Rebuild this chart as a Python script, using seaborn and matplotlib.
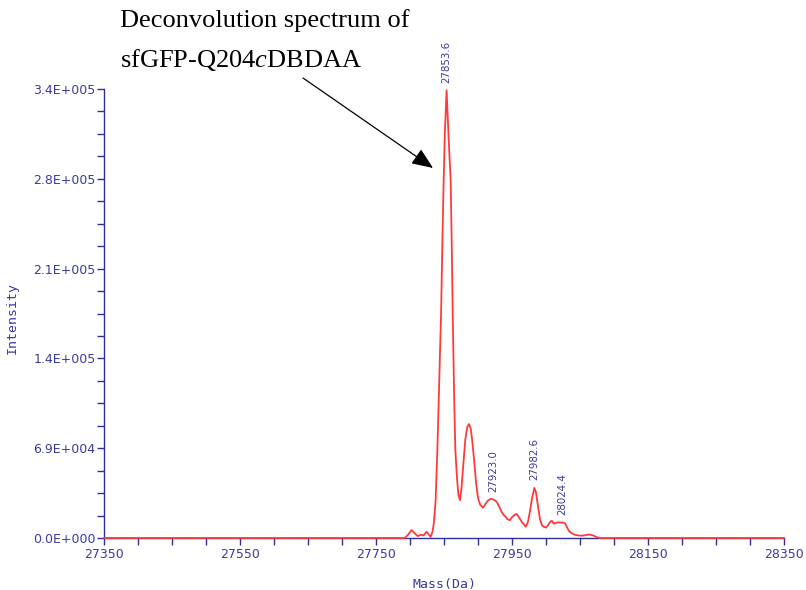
import numpy as np
import pandas as pd
import matplotlib
matplotlib.use("Agg")
import matplotlib.pyplot as plt
import seaborn as sns

# Deconvoluted mass spectrum (mass in Da, intensity in counts)
mass = [
    27350, 27792, 27797, 27802, 27806, 27811, 27816, 27820, 27824, 27827,
    27830, 27833, 27835, 27837.5, 27840, 27842, 27844, 27845.5, 27847.5, 27849.3,
    27851, 27853.6, 27855.5, 27857.5, 27859.6, 27861, 27862.6, 27863.5, 27865, 27866.5,
    27869, 27871, 27873.3, 27875.5, 27878, 27881, 27884, 27886.5, 27889, 27891,
    27894, 27897, 27900, 27903, 27907, 27910, 27914, 27918, 27922, 27925,
    27928, 27931, 27934, 27937, 27940, 27943, 27946.5, 27950, 27953, 27956,
    27958, 27961, 27964, 27967, 27970, 27973, 27976, 27979, 27982.6, 27985,
    27988, 27991, 27994, 27997, 28000, 28003, 28006, 28008.5, 28011, 28014,
    28018, 28022, 28025, 28028, 28031, 28034, 28037, 28042, 28048, 28053,
    28058, 28063, 28067, 28071, 28075, 28079, 28350,
]
intensity = [
    0, 0, 2500, 6100, 4000, 1500, 2500, 2000, 4800, 3000,
    800, 5000, 12000, 29000, 67000, 105000, 144000, 172000, 230000, 274000,
    310000, 343000, 320000, 296000, 274000, 230000, 172000, 144000, 100000, 67000,
    45000, 33000, 29000, 38000, 55000, 75000, 85000, 87300, 84000, 76000,
    60000, 42000, 30000, 25500, 23200, 25500, 28500, 29900, 29600, 28800,
    27000, 24000, 20500, 18000, 16500, 14500, 13600, 16000, 17500, 18400,
    17500, 15000, 12500, 10500, 8600, 12000, 20000, 30000, 38400, 35000,
    24000, 14000, 9500, 8500, 8000, 10000, 12500, 13200, 11000, 11500,
    12000, 11800, 11900, 11000, 7800, 5000, 3800, 2500, 1900, 1800,
    2200, 2700, 2300, 1500, 500, 0, 0,
]

# Annotated peak masses
peak_labels = [27853.6, 27923.0, 27982.6, 28024.4]

# Axis ticks
x_ticks = [27350, 27550, 27750, 27950, 28150, 28350]
y_max = 344000
y_tick_labels = ["0.0E+000", "6.9E+004", "1.4E+005", "2.1E+005", "2.8E+005", "3.4E+005"]

sns.set_style("white")
plt.rcParams["font.family"] = ["DejaVu Sans"]

axis_blue = "#2e2ea0"
label_blue = "#3a3a9e"
trace_red = "#ff3a3a"

fig = plt.figure(figsize=(8.06, 5.90), dpi=100)
ax = fig.add_axes([104 / 806, 1 - 538 / 590, 680.3 / 806, 449 / 590])

df = pd.DataFrame({"Mass": mass, "Intensity": intensity})
sns.lineplot(data=df, x="Mass", y="Intensity", ax=ax, color=trace_red,
             linewidth=1.3, estimator=None, sort=False, clip_on=False, zorder=5)

ax.set_xlim(27350, 28350)
ax.set_ylim(0, y_max)

# Ticks: majors labelled, minors every 50 Da / quarter-step on intensity
ax.set_xticks(x_ticks)
ax.set_xticks(np.arange(27350, 28351, 50), minor=True)
y_ticks = np.linspace(0, y_max, len(y_tick_labels))
ax.set_yticks(y_ticks)
ax.set_yticklabels(y_tick_labels)
ax.set_yticks(np.linspace(0, y_max, 4 * (len(y_tick_labels) - 1) + 1), minor=True)

ax.tick_params(axis="both", which="both", direction="out", length=5, width=1.0,
               color=axis_blue, labelcolor=label_blue, labelsize=9,
               bottom=True, left=True, top=False, right=False)
ax.tick_params(axis="y", which="both", pad=1)
ax.tick_params(axis="x", which="both", pad=2)

for side in ("top", "right"):
    ax.spines[side].set_visible(False)
for side in ("left", "bottom"):
    ax.spines[side].set_color(axis_blue)
    ax.spines[side].set_linewidth(1.0)

ax.set_xlabel("Mass(Da)", family="DejaVu Sans Mono", fontsize=9.5, color=label_blue)
ax.set_ylabel("Intensity", family="DejaVu Sans Mono", fontsize=9.5, color=label_blue)
ax.xaxis.set_label_coords(0.5, -0.089)
ax.yaxis.set_label_coords(-0.125, 0.49)

# Vertical peak-mass labels above each labelled peak
for m in peak_labels:
    h = np.interp(m, mass, intensity)
    ax.annotate(f"{m:.1f}", xy=(m, h), xytext=(0, 5.5), textcoords="offset points",
                rotation=90, ha="center", va="bottom", fontsize=7.4,
                color=label_blue, annotation_clip=False)

# Caption with arrow pointing to the main peak
plt.rcParams["mathtext.fontset"] = "custom"
plt.rcParams["mathtext.it"] = "Liberation Serif:italic"
plt.rcParams["mathtext.rm"] = "Liberation Serif"
fig.text(120 / 806, 1 - 27 / 590, "Deconvolution spectrum of", color="black",
         family="Liberation Serif", fontsize=19, va="baseline", ha="left")
fig.text(120 / 806, 1 - 67 / 590, r"sfGFP-Q204$\mathit{c}$DBDAA", color="black",
         family="Liberation Serif", fontsize=19, va="baseline", ha="left")
fig.patches.append(matplotlib.patches.FancyArrowPatch(
    (303 / 806, 1 - 78 / 590), (433 / 806, 1 - 168 / 590),
    transform=fig.transFigure, arrowstyle="-|>,head_length=0.65,head_width=0.27",
    mutation_scale=20, color="black", linewidth=0.9, shrinkA=0, shrinkB=0))

fig.savefig("out.png", dpi=100)
